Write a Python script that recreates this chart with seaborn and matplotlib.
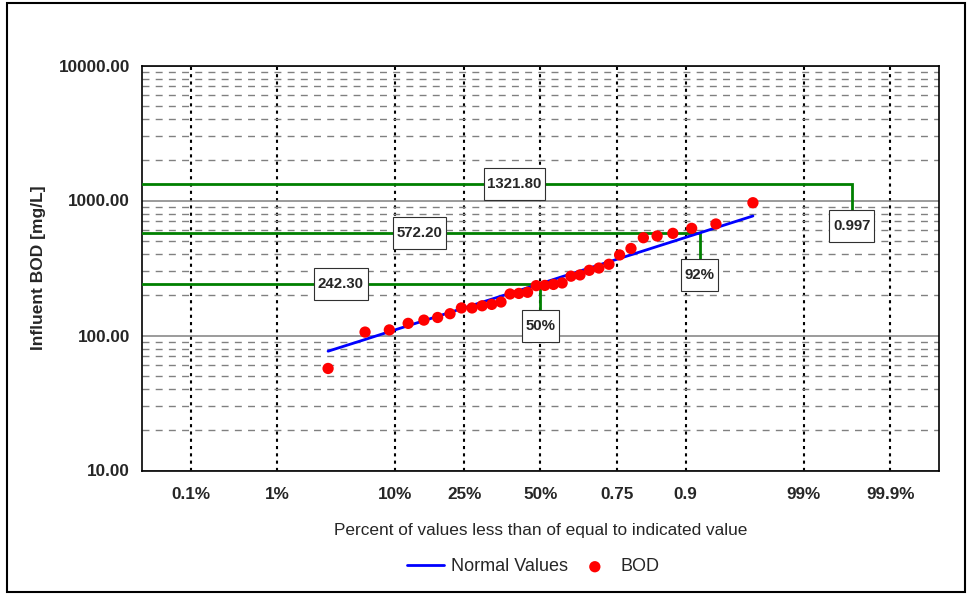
import math
from statistics import NormalDist

import numpy as np
import pandas as pd
import matplotlib
matplotlib.use("Agg")
import matplotlib.pyplot as plt
from matplotlib.patches import Rectangle
from matplotlib.path import Path
from matplotlib.ticker import FixedLocator, NullLocator, LogLocator, FormatStrFormatter, NullFormatter
import seaborn as sns

# Plotting position of each sorted sample (fraction of values <= it)
percentile = [0.0303, 0.0606, 0.0909, 0.1212, 0.1515, 0.1818, 0.2121, 0.2424,
              0.2727, 0.3030, 0.3333, 0.3636, 0.3939, 0.4242, 0.4545, 0.4848,
              0.5152, 0.5455, 0.5758, 0.6061, 0.6364, 0.6667, 0.6970, 0.7273,
              0.7576, 0.7879, 0.8182, 0.8485, 0.8788, 0.9091, 0.9394, 0.9697]

# Measured influent BOD [mg/L], sorted
bod = [57, 106, 110, 123, 130, 136, 145, 160, 160, 166, 170, 177, 203, 205, 209, 234,
       235, 239, 245, 275, 281, 304, 316, 337, 395, 441, 530, 546, 571, 622, 670, 963]

# Fitted log-normal values at the same positions
normal_values = [76.5, 93.4, 106.7, 118.2, 128.7, 138.7, 148.3, 157.8, 167.1, 176.5,
                 185.9, 195.5, 205.4, 215.3, 225.9, 236.8, 248.0, 259.9, 272.7, 285.9,
                 300.3, 315.9, 332.9, 351.5, 372.3, 396.0, 423.5, 456.5, 497.0, 550.7,
                 628.5, 767.9]

tick_probs = [0.001, 0.01, 0.1, 0.25, 0.5, 0.75, 0.9, 0.99, 0.999]
tick_labels = ['0.1%', '1%', '10%', '25%', '50%', '0.75', '0.9', '99%', '99.9%']

# Reference levels
ref_values = [242.30, 572.20, 1321.80]
ref_probs = [0.50, 0.92, 0.997]
ref_prob_labels = ['50%', '92%', '0.997']

# label placement (layout only)
value_label_x = [0.039, 0.143, 0.409]
prob_label_y = [118, 282, 651]

_nd = NormalDist()


def probit(p):
    p = np.clip(np.asarray(p, dtype=float), 1e-12, 1 - 1e-12)
    return np.vectorize(_nd.inv_cdf, otypes=[float])(p)


def inv_probit(z):
    z = np.asarray(z, dtype=float)
    return 0.5 * (1 + np.vectorize(math.erf, otypes=[float])(z / math.sqrt(2)))


def tall_box(x0, y0, width, height, mutation_size):
    # Excel-like label box: little side padding, more above/below
    padx = 0.25 * mutation_size
    pady = 0.6 * mutation_size
    x0, y0 = x0 - padx, y0 - pady
    x1, y1 = x0 + width + 2 * padx, y0 + height + 2 * pady
    return Path([(x0, y0), (x1, y0), (x1, y1), (x0, y1), (x0, y0)], closed=True)


sns.set_theme(style='white')
plt.rcParams['font.family'] = ['Liberation Sans', 'DejaVu Sans']

fig = plt.figure(figsize=(9.67, 5.94), dpi=100)
ax = fig.add_axes([142 / 967, 1 - 470.5 / 594, 797 / 967, 405 / 594])
ax.set_xscale('function', functions=(probit, inv_probit))
ax.set_yscale('log')

xmin, xmax = _nd.cdf(-3.52), _nd.cdf(3.52)

df = pd.DataFrame({'percentile': percentile, 'BOD': bod, 'Normal Values': normal_values})

# green reference lines
for v, p in zip(ref_values, ref_probs):
    ax.plot([xmin, p, p], [v, v, v * 0.55], color='#008000', lw=2, zorder=3,
            solid_joinstyle='miter')

sns.lineplot(data=df, x='percentile', y='Normal Values', ax=ax, color='#0000FF',
             lw=2, label='Normal Values', estimator=None, sort=False, zorder=4)
sns.scatterplot(data=df, x='percentile', y='BOD', ax=ax, color='#FF0000', s=66,
                edgecolor='none', label='BOD', zorder=5)

box = dict(boxstyle=tall_box, fc='white', ec='#303030', lw=0.8)
for v, lx in zip(ref_values, value_label_x):
    ax.text(lx, v, f'{v:.2f}', ha='center', va='center', fontsize=10.8,
            fontweight='bold', bbox=box, zorder=6)
for p, ly, lab in zip(ref_probs, prob_label_y, ref_prob_labels):
    ax.text(p, ly, lab, ha='center', va='center', fontsize=10.8,
            fontweight='bold', bbox=box, zorder=6)

ax.set_xlim(xmin, xmax)
ax.set_ylim(10, 10000)

ax.xaxis.set_major_locator(FixedLocator(tick_probs))
ax.set_xticklabels(tick_labels)
ax.xaxis.set_minor_locator(NullLocator())
ax.yaxis.set_major_locator(FixedLocator([10, 100, 1000, 10000]))
ax.yaxis.set_major_formatter(FormatStrFormatter('%.2f'))
ax.yaxis.set_minor_locator(LogLocator(base=10, subs=range(2, 10)))
ax.yaxis.set_minor_formatter(NullFormatter())

ax.set_axisbelow(True)
ax.grid(True, which='major', axis='x', color='black', lw=1.5, ls=(0, (1.5, 2)))
ax.grid(True, which='major', axis='y', color='#808080', lw=1.1, ls='-')
ax.grid(True, which='minor', axis='y', color='#808080', lw=1.0, ls=(0, (5, 4.5)))

ax.tick_params(which='both', length=0)
ax.tick_params(axis='y', pad=8.6, labelsize=12.3)
ax.tick_params(axis='x', pad=12, labelsize=12.3)
for t in ax.get_xticklabels() + ax.get_yticklabels():
    t.set_fontweight('bold')

for s in ax.spines.values():
    s.set_color('black')
    s.set_linewidth(1.2)

ax.set_xlabel('Percent of values less than of equal to indicated value', fontsize=12.4)
ax.xaxis.set_label_coords(0.5, -0.13)
ax.xaxis.label.set_va('top')
ax.set_ylabel('Influent BOD [mg/L]', fontsize=12.5, fontweight='bold')
ax.yaxis.set_label_coords(-0.12, 0.5)

handles, labels = ax.get_legend_handles_labels()
ax.legend(handles, labels, loc='center', bbox_to_anchor=(0.551, 0.0455),
          bbox_transform=fig.transFigure, ncol=2, frameon=False, fontsize=13,
          handlelength=2.1, handletextpad=0.35, columnspacing=0.45)

fig.patches.append(Rectangle((7 / 967, 2 / 594), 958 / 967, 589 / 594,
                             transform=fig.transFigure, fill=False,
                             ec='black', lw=1.5))

fig.savefig('out.png', dpi=100)
